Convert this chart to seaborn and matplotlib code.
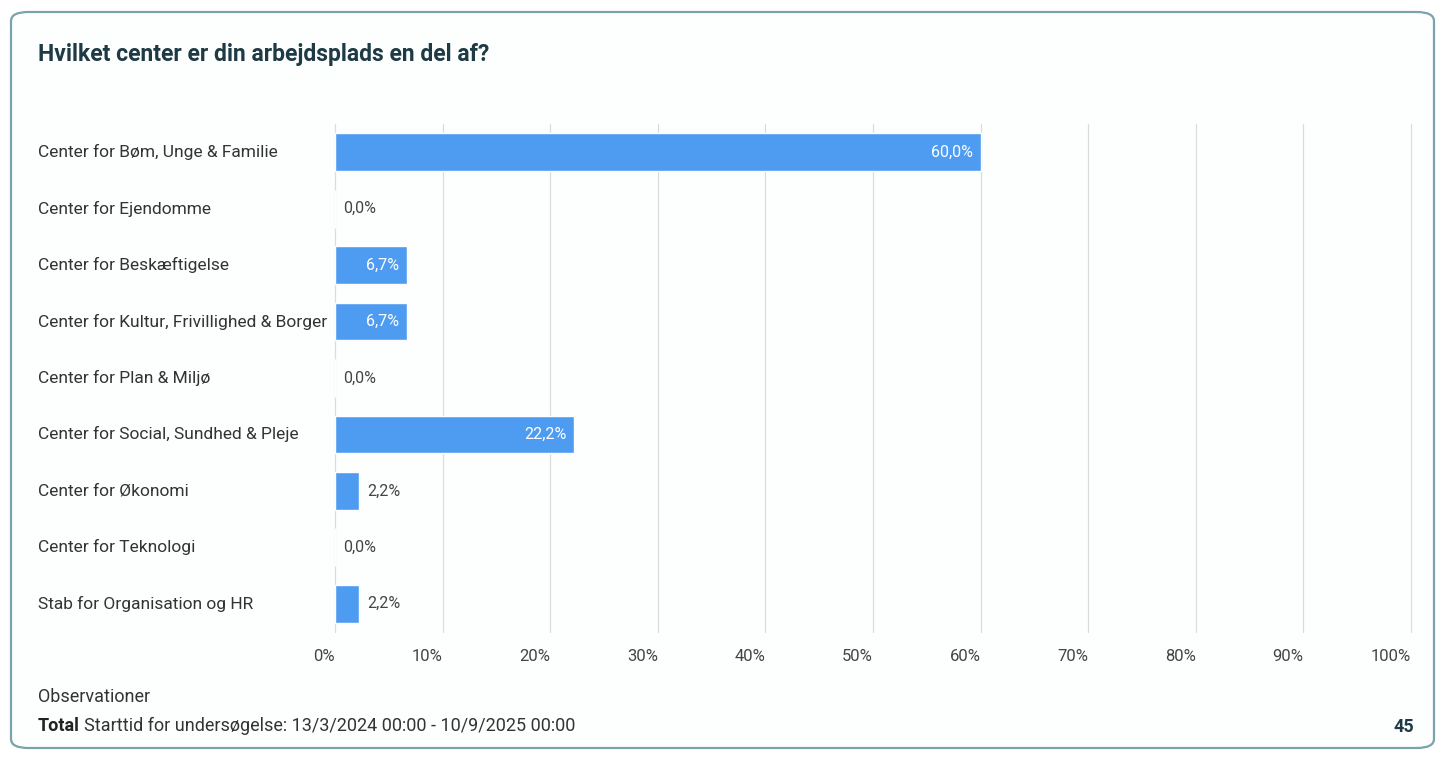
import matplotlib
matplotlib.use("Agg")
import matplotlib.pyplot as plt
import seaborn as sns
import pandas as pd
from matplotlib.patches import FancyBboxPatch
from matplotlib.ticker import FuncFormatter

categories = [
    "Center for Bøm, Unge & Familie",
    "Center for Ejendomme",
    "Center for Beskæftigelse",
    "Center for Kultur, Frivillighed & Borger",
    "Center for Plan & Miljø",
    "Center for Social, Sundhed & Pleje",
    "Center for Økonomi",
    "Center for Teknologi",
    "Stab for Organisation og HR",
]
values = [60.0, 0.0, 6.7, 6.7, 0.0, 22.2, 2.2, 0.0, 2.2]
x_ticks = [0, 10, 20, 30, 40, 50, 60, 70, 80, 90, 100]
title = "Hvilket center er din arbejdsplads en del af?"
total_n = 45

sns.set_theme(style="white")
plt.rcParams['font.family'] = ['Roboto', 'DejaVu Sans']

W, H = 1437, 758
fig = plt.figure(figsize=(W / 100, H / 100), dpi=100)
fig.patch.set_facecolor("white")

# card
card = FancyBboxPatch((11 / W, 10 / H), (W - 14) / W, (H - 22) / H,
                      boxstyle="round,pad=0,rounding_size=0.012",
                      transform=fig.transFigure, facecolor="#fdfefe",
                      edgecolor="#7aa3ab", linewidth=1.6, zorder=-5)
fig.patches.append(card)

ax = fig.add_axes([335 / W, (H - 632) / H, 1076 / W, 508 / H])
ax.set_zorder(2)
ax.set_facecolor("none")
df = pd.DataFrame({"category": categories, "value": values})
sns.barplot(data=df, x="value", y="category", orient="h", color="#4e9cf1",
            saturation=1, width=0.67, ax=ax, zorder=3)

ax.set_xlim(0, 100)
ax.set_ylim(len(categories) - 0.5, -0.5)
ax.set_xticks(x_ticks)
ax.xaxis.set_major_formatter(FuncFormatter(lambda v, p: f"{int(v)}%"))
ax.grid(axis="x", color="#dcdcdc", linewidth=0.9, zorder=0)
ax.grid(axis="y", visible=False)
ax.set_axisbelow(True)
for gl in ax.get_xgridlines():
    gl.set_clip_on(False)
for s in ax.spines.values():
    s.set_visible(False)
ax.set_xlabel("")
ax.set_ylabel("")
ax.tick_params(axis="x", length=0, pad=12, labelsize=12, labelcolor="#444444")
for lbl in ax.get_xticklabels():
    lbl.set_horizontalalignment("right")
ax.tick_params(axis="y", length=0)
ax.set_yticks(range(len(categories)))
ax.set_yticklabels([])

xleft = -(335 - 38) / 1076 * 100
for i, (c, v) in enumerate(zip(categories, values)):
    ax.text(xleft, i, c, fontsize=12.5, color="#333333", va="center", ha="left",
            clip_on=False)
    lab = f"{v:.1f}".replace(".", ",") + "%"
    if v >= 5:
        ax.text(v - 0.7, i, lab, fontsize=11.5, color="white", va="center", ha="right", zorder=5)
    else:
        ax.text(v + 0.8, i, lab, fontsize=11.5, color="#444444", va="center", ha="left", zorder=5)

fig.text(38 / W, 1 - 55 / H, title, fontsize=16.5, fontweight="bold", color="#1e3a44",
         va="center", ha="left")
fig.text(38 / W, 1 - 697 / H, "Observationer", fontsize=13, color="#333333",
         va="center", ha="left")
t1 = fig.text(38 / W, 1 - 726 / H, "Total", fontsize=13, fontweight="bold", color="#222222",
              va="center", ha="left")
r = fig.canvas.get_renderer()
bb = t1.get_window_extent(renderer=r)
fig.text((bb.x1 + 4) / W, 1 - 726 / H, "Starttid for undersøgelse: 13/3/2024 00:00 - 10/9/2025 00:00",
         fontsize=13, color="#333333", va="center", ha="left")
fig.text(1414 / W, 1 - 727 / H, str(total_n), fontsize=13, fontweight="bold",
         color="#1e3a44", va="center", ha="right")

fig.savefig("out.png", dpi=100, facecolor="white")
